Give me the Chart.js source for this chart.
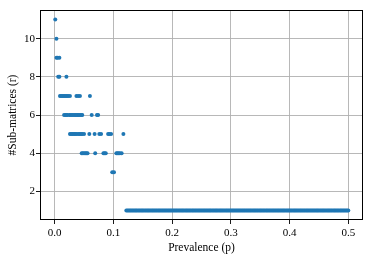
<!DOCTYPE html>
<html>
<head>
<meta charset="utf-8">
<script src="https://cdn.jsdelivr.net/npm/chart.js@4"></script>
<style>
  html, body { margin: 0; padding: 0; background: #fff; }
  #wrap { width: 373px; height: 259px; }
</style>
</head>
<body>
<div id="wrap"><canvas id="chart" width="373" height="259"></canvas></div>
<script>
// prevalence values (p) observed for each number of sub-matrices (r)
const pR11 = [0.001];
const pR10 = [0.003];
const pR9 = [0.003, 0.005, 0.008];
const pR8 = [0.006, 0.008, 0.020];
const pR7 = [0.009, 0.011, 0.013, 0.015, 0.017, 0.019, 0.021, 0.023, 0.026, 0.037, 0.040, 0.043, 0.060];
const pR6 = [0.016, 0.018, 0.020, 0.022, 0.025, 0.027, 0.029, 0.031, 0.033, 0.035, 0.037, 0.039, 0.041, 0.043, 0.045, 0.047, 0.063, 0.072, 0.074];
const pR5 = [0.026, 0.028, 0.030, 0.032, 0.034, 0.036, 0.038, 0.041, 0.043, 0.045, 0.047, 0.050, 0.059, 0.068, 0.076, 0.079, 0.091, 0.093, 0.096, 0.117];
const pR4 = [0.046, 0.048, 0.050, 0.052, 0.054, 0.056, 0.069, 0.083, 0.085, 0.087, 0.105, 0.107, 0.109, 0.111, 0.114];
const pR3 = [0.098, 0.101];
const pR1 = [0.122, 0.124, 0.126, 0.128, 0.130, 0.132, 0.134, 0.136, 0.138, 0.140, 0.142, 0.144, 0.146, 0.148, 0.150, 0.152, 0.154, 0.156, 0.158, 0.160,
  0.162, 0.164, 0.166, 0.168, 0.170, 0.172, 0.174, 0.176, 0.178, 0.180, 0.182, 0.184, 0.186, 0.188, 0.190, 0.192, 0.194, 0.196, 0.198, 0.200,
  0.202, 0.204, 0.206, 0.208, 0.210, 0.212, 0.214, 0.216, 0.218, 0.220, 0.222, 0.224, 0.226, 0.228, 0.230, 0.232, 0.234, 0.236, 0.238, 0.240,
  0.242, 0.244, 0.246, 0.248, 0.250, 0.252, 0.254, 0.256, 0.258, 0.260, 0.262, 0.264, 0.266, 0.268, 0.270, 0.272, 0.274, 0.276, 0.278, 0.280,
  0.282, 0.284, 0.286, 0.288, 0.290, 0.292, 0.294, 0.296, 0.298, 0.300, 0.302, 0.304, 0.306, 0.308, 0.310, 0.312, 0.314, 0.316, 0.318, 0.320,
  0.322, 0.324, 0.326, 0.328, 0.330, 0.332, 0.334, 0.336, 0.338, 0.340, 0.342, 0.344, 0.346, 0.348, 0.350, 0.352, 0.354, 0.356, 0.358, 0.360,
  0.362, 0.364, 0.366, 0.368, 0.370, 0.372, 0.374, 0.376, 0.378, 0.380, 0.382, 0.384, 0.386, 0.388, 0.390, 0.392, 0.394, 0.396, 0.398, 0.400,
  0.402, 0.404, 0.406, 0.408, 0.410, 0.412, 0.414, 0.416, 0.418, 0.420, 0.422, 0.424, 0.426, 0.428, 0.430, 0.432, 0.434, 0.436, 0.438, 0.440,
  0.442, 0.444, 0.446, 0.448, 0.450, 0.452, 0.454, 0.456, 0.458, 0.460, 0.462, 0.464, 0.466, 0.468, 0.470, 0.472, 0.474, 0.476, 0.478, 0.480,
  0.482, 0.484, 0.486, 0.488, 0.490, 0.492, 0.494, 0.496, 0.498, 0.500];

const rowValues = [11, 10, 9, 8, 7, 6, 5, 4, 3, 1];
const rowPrevalence = [pR11, pR10, pR9, pR8, pR7, pR6, pR5, pR4, pR3, pR1];

const xTicks = [0.0, 0.1, 0.2, 0.3, 0.4, 0.5];
const yTicks = [2, 4, 6, 8, 10];

const points = [];
rowValues.forEach((r, i) => {
  rowPrevalence[i].forEach(p => points.push({ x: p, y: r }));
});

const FONT = "'Liberation Serif', 'DejaVu Serif', serif";

const frame = {
  id: 'frame',
  afterDatasetsDraw(chart) {
    const { ctx, chartArea: a } = chart;
    ctx.save();
    ctx.strokeStyle = '#000';
    ctx.lineWidth = 1;
    ctx.strokeRect(Math.round(a.left) + 0.5, Math.round(a.top) + 0.5,
      Math.round(a.right - a.left) - 1, Math.round(a.bottom - a.top) - 1);
    ctx.restore();
  }
};

new Chart(document.getElementById('chart'), {
  type: 'scatter',
  data: {
    datasets: [{
      data: points,
      backgroundColor: '#1f77b4',
      borderWidth: 0,
      pointRadius: 2,
      pointHoverRadius: 2,
    }],
  },
  options: {
    responsive: false,
    animation: false,
    layout: { padding: { top: 10, right: 10, left: 0, bottom: 4 } },
    plugins: {
      legend: { display: false },
      tooltip: { enabled: false },
    },
    scales: {
      x: {
        type: 'linear',
        min: -0.025,
        max: 0.525,
        afterBuildTicks: s => { s.ticks = xTicks.map(v => ({ value: v })); },
        afterFit: s => { s.height = 35; },
        border: { display: false },
        grid: { color: '#b0b0b0', lineWidth: 0.9, tickColor: '#000', tickLength: 4 },
        ticks: {
          color: '#000',
          font: { family: FONT, size: 11 },
          padding: 3,
          maxRotation: 0,
          callback: v => v.toFixed(1),
        },
        title: {
          display: true,
          text: 'Prevalence (p)',
          color: '#000',
          font: { family: FONT, size: 11.5 },
          padding: { top: 0, bottom: 0 },
        },
      },
      y: {
        type: 'linear',
        min: 0.5,
        max: 11.5,
        afterBuildTicks: s => { s.ticks = yTicks.map(v => ({ value: v })); },
        afterFit: s => { s.width = 40; },
        border: { display: false },
        grid: { color: '#b0b0b0', lineWidth: 0.9, tickColor: '#000', tickLength: 4 },
        ticks: {
          color: '#000',
          font: { family: FONT, size: 11 },
          padding: 1,
        },
        title: {
          display: true,
          text: '#Sub-matrices (r)',
          color: '#000',
          font: { family: FONT, size: 11.5 },
          padding: { top: 6, bottom: 0 },
        },
      },
    },
  },
  plugins: [frame],
});
</script>
</body>
</html>
